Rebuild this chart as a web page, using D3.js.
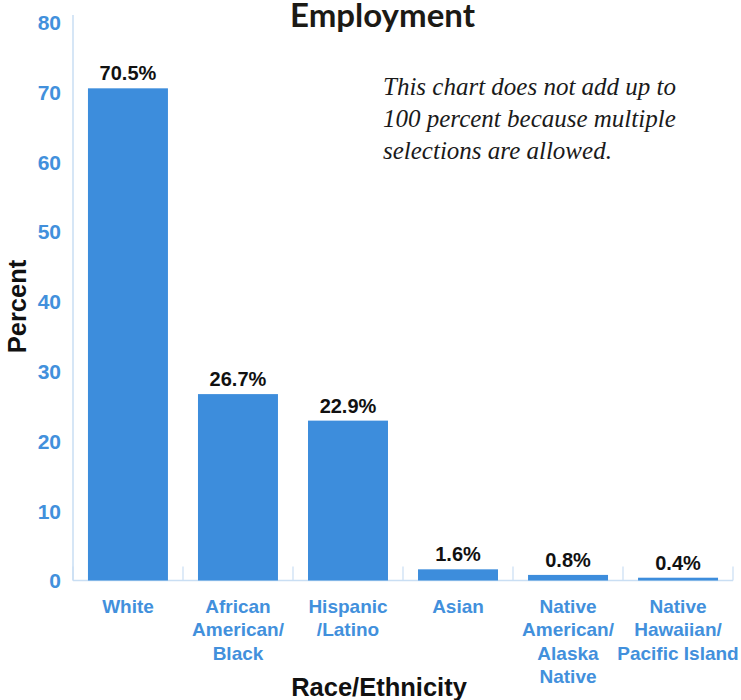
<!DOCTYPE html>
<html>
<head>
<meta charset="utf-8">
<script src="https://cdn.jsdelivr.net/npm/d3@7"></script>
<style>
  html, body { margin: 0; padding: 0; background: #fff; }
  svg { display: block; }
</style>
</head>
<body>
<svg id="chart" width="741" height="700"></svg>
<script>
// Race/ethnicity breakdown for employment (multiple selections allowed)
const categories = [
  ["White"],
  ["African", "American/", "Black"],
  ["Hispanic", "/Latino"],
  ["Asian"],
  ["Native", "American/", "Alaska", "Native"],
  ["Native", "Hawaiian/", "Pacific Island"]
];
const values = [70.5, 26.7, 22.9, 1.6, 0.8, 0.4];
const yTicks = [0, 10, 20, 30, 40, 50, 60, 70, 80];
const noteLines = [
  "This chart does not add up to",
  "100 percent because multiple",
  "selections are allowed."
];

const svg = d3.select("#chart");
const plotLeft = 73, plotRight = 733, plotTop = 22, plotBottom = 580.5;
const barColor = "#3d8ddc";
const labelBlue = "#4290dc";
const axisColor = "#c9def3";
const sans = "'Liberation Sans', Arial, sans-serif";

const keys = categories.map((c, i) => i);
const x = d3.scaleBand().domain(keys).range([plotLeft, plotRight]).paddingInner(0.273).paddingOuter(0.136);
const xBand = d3.scaleBand().domain(keys).range([plotLeft, plotRight]);
const y = d3.scaleLinear().domain([0, 80]).range([plotBottom, plotTop]);

// vertical axis line
svg.append("line")
  .attr("x1", plotLeft).attr("x2", plotLeft)
  .attr("y1", 15).attr("y2", plotBottom)
  .attr("stroke", axisColor).attr("stroke-width", 1.5);

// baseline
svg.append("line")
  .attr("x1", plotLeft).attr("x2", plotRight)
  .attr("y1", plotBottom).attr("y2", plotBottom)
  .attr("stroke", axisColor).attr("stroke-width", 1.5);

// category separators rising from the baseline
const seps = keys.map(k => xBand(k)).concat([plotRight]);
svg.selectAll("line.sep").data(seps).enter().append("line")
  .attr("class", "sep")
  .attr("x1", d => d).attr("x2", d => d)
  .attr("y1", plotBottom - 14).attr("y2", plotBottom)
  .attr("stroke", axisColor).attr("stroke-width", 1.2);

// y tick labels
svg.selectAll("text.ytick").data(yTicks).enter().append("text")
  .attr("class", "ytick")
  .attr("x", 61).attr("y", d => y(d))
  .attr("dy", "0.38em")
  .attr("text-anchor", "end")
  .attr("font-family", sans)
  .attr("font-weight", "bold").attr("font-size", 21)
  .attr("fill", labelBlue)
  .text(d => d);

// bars
svg.selectAll("rect.bar").data(values).enter().append("rect")
  .attr("class", "bar")
  .attr("x", (d, i) => x(i))
  .attr("width", x.bandwidth())
  .attr("y", d => y(d))
  .attr("height", d => plotBottom - y(d))
  .attr("fill", barColor);

// value labels
svg.selectAll("text.val").data(values).enter().append("text")
  .attr("class", "val")
  .attr("x", (d, i) => x(i) + x.bandwidth() / 2)
  .attr("y", d => y(d) - 8)
  .attr("text-anchor", "middle")
  .attr("font-family", sans)
  .attr("font-weight", "bold").attr("font-size", 20)
  .attr("fill", "#111")
  .text(d => d.toFixed(1) + "%");

// category labels
const catG = svg.selectAll("text.cat").data(categories).enter().append("text")
  .attr("class", "cat")
  .attr("text-anchor", "middle")
  .attr("font-family", sans)
  .attr("font-weight", "bold").attr("font-size", 19)
  .attr("fill", labelBlue);
catG.each(function(lines, i) {
  const cx = xBand(i) + xBand.bandwidth() / 2;
  d3.select(this).selectAll("tspan").data(lines).enter().append("tspan")
    .attr("x", cx)
    .attr("y", (d, j) => 613 + j * 23.3)
    .text(d => d);
});

// title
svg.append("text")
  .attr("x", 382.5).attr("y", 27)
  .attr("text-anchor", "middle")
  .attr("font-family", "Lato, 'Open Sans', sans-serif")
  .attr("font-weight", "bold").attr("font-size", 33)
  .attr("fill", "#1c1a15")
  .text("Employment");

// axis titles
svg.append("text")
  .attr("x", 379).attr("y", 696)
  .attr("text-anchor", "middle")
  .attr("font-family", sans)
  .attr("font-weight", "bold").attr("font-size", 25.5)
  .attr("fill", "#111")
  .text("Race/Ethnicity");

svg.append("text")
  .attr("transform", "translate(26,306.5) rotate(-90)")
  .attr("text-anchor", "middle")
  .attr("font-family", sans)
  .attr("font-weight", "bold").attr("font-size", 25.5)
  .attr("fill", "#111")
  .text("Percent");

// note
svg.append("text")
  .attr("font-family", "'Liberation Serif', 'Times New Roman', serif")
  .attr("font-style", "italic").attr("font-size", 25)
  .attr("fill", "#1a1a1a")
  .selectAll("tspan").data(noteLines).enter().append("tspan")
  .attr("x", 383)
  .attr("y", (d, i) => 95 + i * 32)
  .text(d => d);
</script>
</body>
</html>
